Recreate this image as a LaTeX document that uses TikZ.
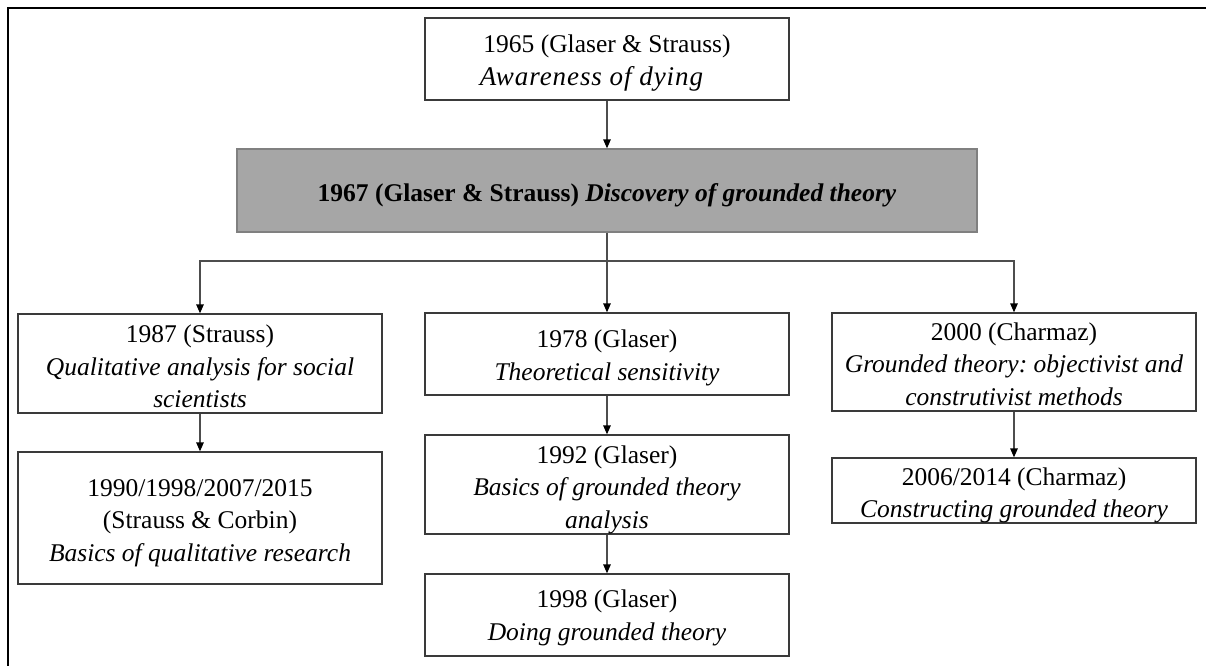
\documentclass[tikz,border=0pt]{standalone}
\usepackage{fontspec}
\setmainfont{Liberation Serif}
\usetikzlibrary{arrows.meta}
\definecolor{boxline}{HTML}{3A3A3A}
\definecolor{keyline}{HTML}{808080}
\definecolor{keyfill}{HTML}{A6A6A6}
\definecolor{connline}{HTML}{4D4D4D}
\begin{document}
\frenchspacing
\begin{tikzpicture}[x=1pt,y=-1pt,
  box/.style={draw=boxline, line width=1.3pt, fill=white, minimum width=364pt, inner sep=0pt},
  keybox/.style={box, draw=keyline, fill=keyfill, minimum width=740pt, minimum height=83pt},
  txt/.style={align=center, inner sep=0pt, font=\fontsize{25.5}{32.5}\selectfont},
  conn/.style={connline, line width=1.3pt, -{Triangle[length=9pt,width=7.5pt,color=black]}},
  frameline/.style={black, line width=2pt}]
\useasboundingbox (0,0) rectangle (1206,666);

% outer frame (top and left edges)
\draw[frameline] (1206,8) -- (8,8) -- (8,666);

% boxes
\node[box, minimum height=82pt]  (n1965) at (607,59) {};
\node[keybox]                    (n1967) at (607,190.5) {};
\node[box, minimum height=99pt]  (n1987) at (200,363.5) {};
\node[box, minimum height=132pt] (n1990) at (200,518) {};
\node[box, minimum height=82pt]  (n1978) at (607,354) {};
\node[box, minimum height=99pt]  (n1992) at (607,484.5) {};
\node[box, minimum height=82pt]  (n1998) at (607,615) {};
\node[box, minimum height=98pt]  (n2000) at (1014,362) {};
\node[box, minimum height=65pt]  (n2006) at (1014,490.5) {};

% box texts
\node[txt] (t1965) at ([yshift=-4pt]n1965.center)
  {1965 (Glaser \& Strauss)\\{\fontsize{27}{32.5}\selectfont\addfontfeature{LetterSpace=3.5}\textit{Awareness of dying}}\hspace*{30pt}};
\node[txt] (t1967) at ([yshift=-5pt]n1967.center)
  {\textbf{1967 (Glaser \& Strauss) \textit{Discovery of grounded theory}}};
\node[txt] (t1987) at ([yshift=-3pt]n1987.center)
  {1987 (Strauss)\\\textit{Qualitative analysis for social}\\\textit{scientists}};
\node[txt] (t1990) at ([yshift=-5pt]n1990.center)
  {1990/1998/2007/2015\\(Strauss \& Corbin)\\\textit{Basics of qualitative research}};
\node[txt] (t1978) at ([yshift=-4pt]n1978.center)
  {1978 (Glaser)\\\textit{Theoretical sensitivity}};
\node[txt] (t1992) at ([yshift=-5pt]n1992.center)
  {1992 (Glaser)\\\textit{Basics of grounded theory}\\\textit{analysis}};
\node[txt] (t1998) at ([yshift=-3pt]n1998.center)
  {1998 (Glaser)\\\textit{Doing grounded theory}};
\node[txt] (t2000) at ([yshift=-2pt]n2000.center)
  {2000 (Charmaz)\\\textit{Grounded theory: objectivist and}\\\textit{construtivist methods}};
\node[txt] (t2006) at ([yshift=-5pt]n2006.center)
  {2006/2014 (Charmaz)\\\textit{Constructing grounded theory}};

% branching point below the key publication
\coordinate (split) at (607,261);

% connectors
\draw[conn] (n1965) -- (n1967);
\draw[conn] (n1967) -- (n1978);
\draw[conn] (split) -| (n1987.north);
\draw[conn] (split) -| (n2000.north);
\draw[conn] (n1987) -- (n1990);
\draw[conn] (n1978) -- (n1992);
\draw[conn] (n1992) -- (n1998);
\draw[conn] (n2000) -- (n2006);
\end{tikzpicture}
\end{document}
